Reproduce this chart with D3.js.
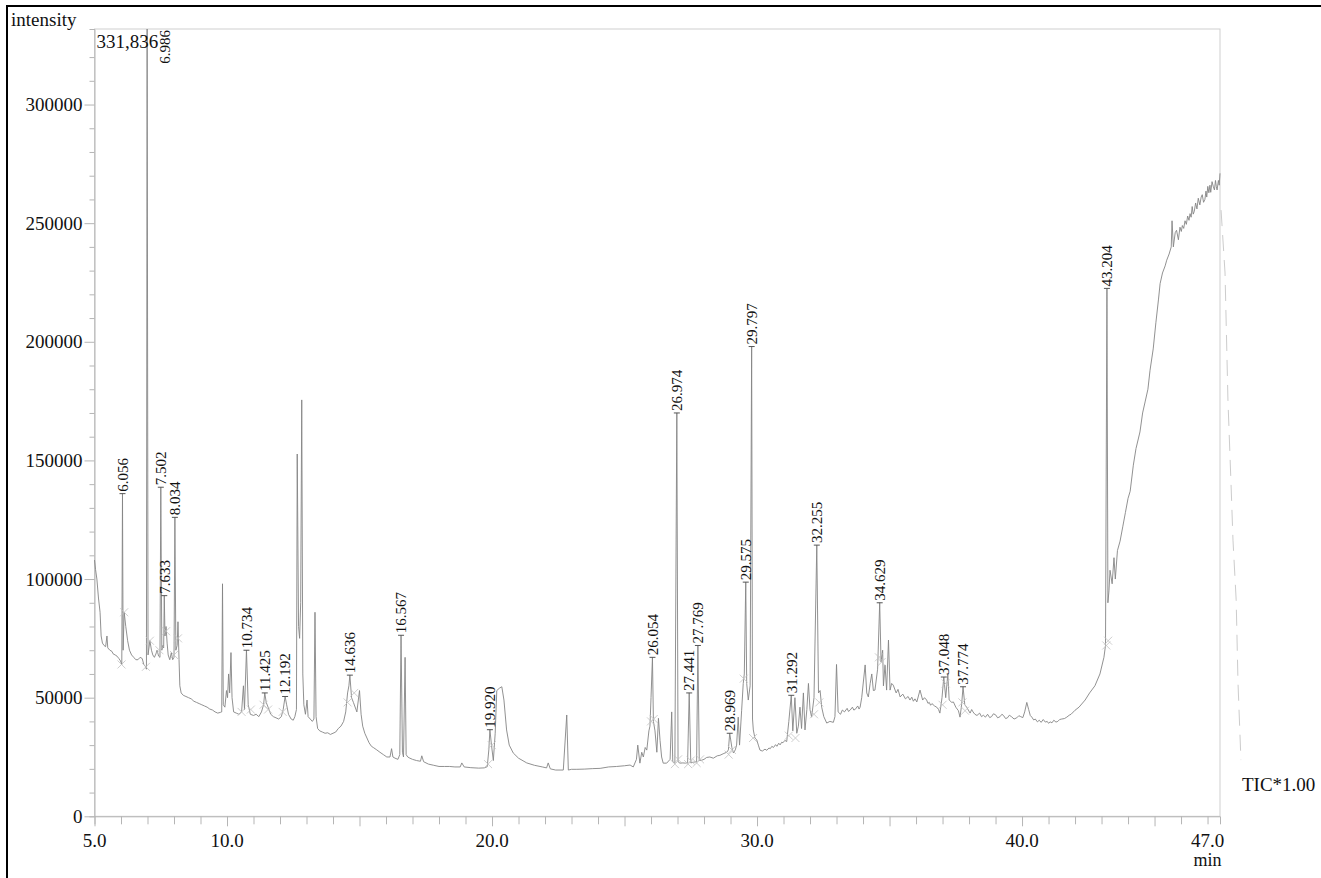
<!DOCTYPE html>
<html lang="en">
<head>
<meta charset="utf-8">
<title>TIC chromatogram</title>
<script src="https://d3js.org/d3.v7.min.js"></script>
<style>
  html, body { margin: 0; padding: 0; background: #fff; }
  svg { display: block; font-family: "Liberation Serif", "Times New Roman", serif; }
</style>
</head>
<body>
<div id="chart"></div>
<script>
// Trace: [time (min), intensity]
const traceEarly = [
  [5.00,108000],[5.04,104000],[5.09,100000],[5.15,92000],[5.21,86000],[5.25,76000],[5.30,73000],[5.36,72000],
  [5.42,71500],[5.47,76000],[5.50,71000],[5.58,70000],[5.66,69500],[5.70,68500],[5.78,68000],[5.85,67500],
  [5.92,66500],[5.98,65500],[6.03,64000],[6.08,70000],[6.12,86000],[6.18,80000],[6.25,74000],[6.32,70000],
  [6.40,68000],[6.48,67000],[6.56,66000],[6.64,66000],[6.72,67000],[6.80,66500],[6.86,64000],[6.93,63000],
  [6.96,62000],[7.02,68000],[7.09,74000],[7.15,70000],[7.20,68000],[7.26,67000],[7.32,68500],[7.36,70000],
  [7.42,67500],[7.47,67000],[7.54,70000],[7.58,72000],[7.61,71000],[7.66,76000],[7.70,80000],[7.74,73000],
  [7.78,68000],[7.84,66000],[7.90,69000],[7.95,66000],[8.00,67000],[8.07,70000],[8.12,72000],[8.15,82000],
  [8.19,66000],[8.22,55000],[8.27,52000],[8.35,51000],[8.45,50500],[8.55,50000],[8.65,49500],[8.75,48500],
  [8.85,48000],[8.95,47500],[9.05,47000],[9.15,46500],[9.25,46000],[9.35,45200],[9.45,44800],[9.55,44000],
  [9.65,43500],[9.75,43800],[9.80,44000],[9.83,98000],[9.86,47000],[9.92,46000],[9.98,53000],[10.02,50000],
  [10.06,60000],[10.10,52000],[10.15,69000],[10.19,50000],[10.25,44000],[10.35,43500],[10.45,43000],[10.55,44000],
  [10.62,55000],[10.66,45000],[10.80,47000],[10.88,43000],[11.00,42500],[11.10,43000],[11.20,42000],[11.30,44000],
  [11.38,47000],[11.48,48000],[11.55,46000],[11.65,43000],[11.75,42000],[11.85,41500],[11.95,41000],[12.05,42000],
  [12.12,45000],[12.25,47000],[12.32,43000],[12.42,41000],[12.50,40500],[12.56,42000],[12.62,45000],[12.65,152700],
  [12.70,80000],[12.74,75000],[12.78,90000],[12.82,175500],[12.86,60000],[12.90,47000],[12.96,43000],[13.02,49000],
  [13.06,42000],[13.14,41000],[13.22,40000],[13.28,41000],[13.32,86000],[13.36,42000],[13.42,37000]
];
const traceMid = [
  [13.50,36000],[13.60,35500],[13.70,35000],[13.80,35200],[13.90,34500],[14.00,35000],[14.10,35500],[14.20,37000],
  [14.30,38000],[14.40,40000],[14.48,44000],[14.55,52000],[14.60,55000],[14.70,50000],[14.77,48000],[14.90,44000],
  [15.00,53000],[15.06,43000],[15.12,38000],[15.20,35000],[15.28,33000],[15.36,31000],[15.45,29500],[15.52,29000],
  [15.65,28000],[15.77,27000],[15.90,26000],[16.03,25000],[16.15,25000],[16.21,28500],[16.26,25000],[16.34,24500],
  [16.45,24000],[16.52,26000],[16.62,27000],[16.66,25000],[16.72,67000],[16.76,26000],[16.82,25000],[16.90,24500],
  [17.00,24000],[17.15,23500],[17.30,23200],[17.35,25500],[17.42,23000],[17.60,22000],[17.80,21500],[18.00,21000],
  [18.20,21000],[18.40,21000],[18.60,20800],[18.80,20800],[18.86,22500],[18.95,20800],[19.20,20500],[19.50,20300],
  [19.70,20400],[19.82,20900],[19.88,28000],[19.98,30000],[20.05,23500],[20.12,35000],[20.18,53000],[20.28,54000],
  [20.37,54600],[20.45,49000],[20.55,36400],[20.65,30000],[20.80,26700],[21.00,24500],[21.31,22500],[21.60,21500],
  [21.90,20800],[22.06,20400],[22.12,22500],[22.20,20000],[22.40,19500],[22.69,19500],[22.82,42700],[22.88,19500],
  [23.00,19800],[23.20,19800],[23.50,19900],[23.80,20100],[24.08,20200],[24.40,20800],[24.70,21000],[25.00,21300],
  [25.21,21600],[25.33,20800],[25.45,24000],[25.50,30000],[25.58,22400],[25.65,27000],[25.71,25000],[25.78,29000],
  [25.84,27900],[25.92,36000],[25.96,38000],[26.00,50000]
];
const traceLate = [
  [26.09,40000],[26.15,36000],[26.22,27000],[26.28,41300],[26.34,32000],[26.40,25000],[26.46,22400],[26.59,22400],
  [26.72,24000],[26.78,44000],[26.82,23000],[26.90,22400],[27.02,23000],[27.09,22400],[27.20,22500],[27.30,22400],
  [27.38,22600],[27.50,22500],[27.60,22800],[27.72,23000],[27.82,23500],[27.90,23600],[28.00,24000],[28.10,24800],
  [28.22,25000],[28.35,24500],[28.50,25500],[28.60,25700],[28.75,26500],[28.86,27000],[28.92,28000],[29.05,29000],
  [29.11,26700],[29.18,28000],[29.23,30000],[29.29,41800],[29.34,30000],[29.42,44700],[29.48,56000],[29.52,60000],
  [29.61,56000],[29.67,49000],[29.74,55000],[29.83,41000],[29.86,36400],[29.92,33000],[29.99,32200],[30.05,30000],
  [30.11,27900],[30.20,27500],[30.30,28300],[30.37,27800],[30.45,28800],[30.50,28500],[30.56,29500],[30.62,29000],
  [30.70,30200],[30.75,29500],[30.82,30800],[30.87,30100],[30.93,31200],[30.98,31000],[31.05,32000],[31.12,31500],
  [31.20,40000],[31.35,36000],[31.43,50000],[31.50,35000],[31.56,38000],[31.62,46000],[31.68,37000],
  [31.75,52000],[31.81,36400],[31.88,45000],[31.94,56000],[32.00,45000],[32.06,41800],[32.15,50000],[32.32,52000],
  [32.38,53000],[32.44,46000],[32.52,42000],[32.63,39300],[32.75,40000],[32.88,39600],[32.94,42000],[33.00,64000],
  [33.06,44000],[33.15,43000],[33.22,44800],[33.30,44000],[33.40,45500],[33.45,44200],[33.51,44700],[33.60,46000],
  [33.65,44800],[33.70,45000],[33.80,46500],[33.85,45200],[33.89,46000],[33.95,50000],[34.08,63800],[34.14,52000],
  [34.20,50300],[34.27,56000],[34.33,60000],[34.39,53000],
  [34.45,53200],[34.55,62000],[34.68,65000],[34.74,70000],[34.77,55000],[34.83,63800],[34.89,53200],[34.96,74300],
  [35.02,53200],[35.08,56000],[35.14,55300],[35.25,52000],[35.32,53500],[35.40,50300],[35.50,51500],[35.60,49500],
  [35.70,50500],[35.77,49000],[35.84,50200],[35.90,48500],[35.96,49500],[36.03,48200],[36.15,53200],[36.25,49000],
  [36.32,50000],[36.40,49000],[36.45,47600],[36.50,48000],[36.55,46800],[36.60,47500],[36.70,46500],[36.78,46000],
  [36.85,45000],[36.90,43500],[36.98,50000],[37.12,50000],[37.20,60000],[37.25,49000],
  [37.35,48000],[37.41,48200],[37.50,46000],[37.60,44500],[37.66,41800],[37.72,47000],[37.84,47000],[37.91,46000],
  [38.04,43500],[38.10,45000],[38.15,44000],[38.22,43000],[38.30,42500],[38.40,43500],[38.47,42000],[38.54,42600],
  [38.62,41800],[38.70,43000],[38.78,41600],[38.85,42000],[38.92,43200],[39.00,42800],[39.08,41500],[39.17,42000],
  [39.24,43000],[39.30,42500],[39.38,41200],[39.45,41500],[39.52,42600],[39.60,42000],[39.70,41000],[39.80,41500],
  [39.88,42400],[39.95,42000],[40.03,41600],[40.10,44000],[40.18,48000],[40.25,45000],[40.31,42500],[40.37,41800],
  [40.44,40600],[40.50,41000],[40.58,39800],[40.65,40500],[40.72,39600],[40.80,40800],[40.88,39700],[40.95,40000],
  [41.00,39200],[41.06,39800],[41.13,39400],[41.20,40500],[41.28,39700],[41.35,40000],[41.42,40800],[41.50,41000],
  [41.60,41200],[41.69,41800],[41.78,42600],[41.85,43000],[42.00,44700],[42.15,46000],[42.38,49000],[42.55,52000],
  [42.75,55000],[42.94,60000],[43.09,67000],[43.15,72000],[43.24,90000],[43.28,95000],[43.32,103700],[43.40,98000],
  [43.47,109000],[43.52,100000],[43.60,112000],[43.70,116000],[43.80,122000],[43.90,128000],[44.00,134000],[44.08,137000],
  [44.20,148000],[44.30,155000],[44.45,162000],[44.55,170000],[44.65,175000],[44.75,180000],[44.83,188000],[44.95,197000],
  [45.05,208000],[45.15,218000],[45.21,224500],[45.30,229000],[45.40,232000],[45.46,234400],[45.55,237000],[45.63,240000],
  [45.66,251000],[45.71,240000],[45.78,246000],[45.83,247000],[45.90,243000],[45.96,248300],[46.01,246500],[46.05,249000],
  [46.10,247800],[46.15,251000],[46.20,249500],[46.25,253000],[46.30,251200],[46.34,254000],[46.38,252500],[46.42,257000],
  [46.46,253800],[46.50,255000],[46.55,258500],[46.60,256000],[46.65,260500],[46.71,257700],[46.76,261000],[46.80,262000],
  [46.85,258800],[46.90,260000],[46.94,263500],[46.97,261000],[47.01,265500],[47.05,262800],[47.09,266000],[47.12,263000],
  [47.17,267500],[47.22,265300],[47.26,264000],[47.30,268000],[47.33,265500],[47.36,264000],[47.41,268000],[47.44,266000],
  [47.47,271000]
];
// part of the trace past the end of the window (drawn dashed)
const tailTrace = [
  [47.51,255500],[47.66,229000],[47.77,175400],[47.89,138800],[47.96,116400],[48.08,91200],[48.15,56000],[48.26,23700]
];

// Labelled peaks
const peakLabels = ["6.056","6.986","7.502","7.633","8.034","10.734","11.425","12.192","14.636","16.567","19.920",
  "26.054","26.974","27.441","27.769","28.969","29.575","29.797","31.292","32.255","34.629","37.048","37.774","43.204"];
const peakHeights = [136000,331836,138700,93000,126000,70000,52000,50500,59500,76300,36500,
  67000,170000,52000,72000,35000,98700,198000,51000,114300,90000,58700,54600,222500];

// Integration marks (peak start / end)
const markTimes = [6.02,6.12,6.94,7.09,7.45,7.70,8.00,8.15,10.55,10.90,11.38,11.55,12.10,14.55,14.80,19.85,19.99,
  26.00,26.10,26.90,27.02,27.40,27.50,27.72,27.85,28.93,29.05,29.50,29.85,31.20,31.45,32.15,32.35,34.60,34.70,37.00,37.12,37.75,37.85,43.18,43.25];
const markValues = [64000,86000,63000,74000,70000,78000,68000,75000,44000,45000,47000,45000,44000,48000,52000,22000,30000,
  40000,41000,22000,24000,22000,23500,22500,24000,26000,28000,58000,33000,34000,33000,43000,48000,67000,65000,47000,56000,48000,44500,72000,74000];

const xTickLabels = [5.0, 10.0, 20.0, 30.0, 40.0, 47.0];
const yTickLabels = [0, 50000, 100000, 150000, 200000, 250000, 300000];
const xDomain = [5.0, 47.47];
const yDomain = [0, 331836];

// Dimensions
const width = 1321, height = 878;
const plot = { left: 94.5, right: 1220, top: 29, bottom: 816.3 };
const serif = '"Liberation Serif", "Times New Roman", serif';

const svg = d3.select("#chart").append("svg")
  .attr("width", width)
  .attr("height", height);

svg.append("rect").attr("width", width).attr("height", height).attr("fill", "#fff");

// outer black frame (top and left edges visible)
svg.append("line").attr("x1", 7).attr("x2", width).attr("y1", 6).attr("y2", 6)
  .attr("stroke", "#000").attr("stroke-width", 2);
svg.append("line").attr("x1", 7).attr("x2", 7).attr("y1", 5).attr("y2", height)
  .attr("stroke", "#000").attr("stroke-width", 2);

// Scales
const x = d3.scaleLinear().domain(xDomain).range([plot.left, plot.right]);
const y = d3.scaleLinear().domain(yDomain).range([plot.bottom, plot.top]);

// plot frame
svg.append("rect")
  .attr("x", plot.left).attr("y", plot.top)
  .attr("width", plot.right - plot.left).attr("height", plot.bottom - plot.top)
  .attr("fill", "none").attr("stroke", "#cfcfcf").attr("stroke-width", 1);

// Axes
const xAxis = d3.axisBottom(x)
  .tickValues(d3.range(5, 48, 1))
  .tickSize(8)
  .tickFormat("");
const gx = svg.append("g").attr("transform", `translate(0,${plot.bottom})`).call(xAxis)
  .attr("font-family", serif);
gx.selectAll("line").attr("stroke", "#b5b5b5").attr("y2", d => d % 5 === 0 ? 10 : 8);
gx.select(".domain").attr("stroke", "#b5b5b5");

gx.selectAll(".xlab").data(xTickLabels).join("text")
  .attr("class", "xlab")
  .attr("x", d => x(d)).attr("y", 31)
  .attr("text-anchor", "middle")
  .attr("font-size", 19)
  .attr("fill", "#111")
  .text(d => d.toFixed(1));

svg.append("text")
  .attr("x", x(47)).attr("y", 866)
  .attr("text-anchor", "middle")
  .attr("font-size", 18)
  .attr("fill", "#111")
  .text("min");

const yAxis = d3.axisLeft(y)
  .tickValues(d3.range(0, 330000, 10000))
  .tickSize(5)
  .tickFormat("");
const gy = svg.append("g").attr("transform", `translate(${plot.left},0)`).call(yAxis)
  .attr("font-family", serif);
gy.selectAll("line").attr("stroke", "#b5b5b5").attr("x2", d => d % 50000 === 0 ? -10 : -5);
gy.select(".domain").attr("stroke", "#b5b5b5");

gy.selectAll(".ylab").data(yTickLabels).join("text")
  .attr("class", "ylab")
  .attr("x", -12).attr("y", d => y(d))
  .attr("dy", "0.35em")
  .attr("text-anchor", "end")
  .attr("font-size", 19)
  .attr("fill", "#111")
  .text(d => d);

svg.append("text")
  .attr("x", 11).attr("y", 26)
  .attr("font-size", 19)
  .attr("fill", "#111")
  .text("intensity");

// Trace (labelled peak apexes merged in)
const peakTimes = peakLabels.map(Number);
const points = traceEarly.concat(traceMid, traceLate, peakTimes.map((t, i) => [t, peakHeights[i]]))
  .sort((a, b) => a[0] - b[0]);

const line = d3.line().x(d => x(d[0])).y(d => y(d[1]));

svg.append("path")
  .datum(points)
  .attr("d", line)
  .attr("fill", "none")
  .attr("stroke", "#858585")
  .attr("stroke-width", 0.9)
  .attr("stroke-linejoin", "round");

svg.append("path")
  .datum(tailTrace)
  .attr("d", line)
  .attr("fill", "none")
  .attr("stroke", "#cccccc")
  .attr("stroke-width", 1)
  .attr("stroke-dasharray", "16,9");

// integration marks
svg.append("g").selectAll("path")
  .data(markTimes.map((t, i) => [t, markValues[i]]))
  .join("path")
  .attr("d", d => {
    const cx = x(d[0]), cy = y(d[1]), s = 4;
    return `M${cx - s},${cy - s}L${cx + s},${cy + s}M${cx - s},${cy + s}L${cx + s},${cy - s}`;
  })
  .attr("stroke", "#c2c2c2")
  .attr("stroke-width", 0.8)
  .attr("fill", "none");

// Peak labels
const labels = svg.append("g");
peakTimes.forEach((t, i) => {
  const px = x(t), py = y(peakHeights[i]);
  if (py <= plot.top + 2) {
    labels.append("text")
      .attr("x", plot.left + 2).attr("y", plot.top + 19)
      .attr("font-size", 19)
      .attr("fill", "#111")
      .text(d3.format(",")(peakHeights[i]));
    labels.append("text")
      .attr("transform", `translate(${px + 18},${plot.top + 1}) rotate(-90)`)
      .attr("text-anchor", "end")
      .attr("dy", "0.35em")
      .attr("font-size", 15)
      .attr("fill", "#111")
      .text(peakLabels[i]);
  } else {
    labels.append("line")
      .attr("x1", px - 3).attr("x2", px + 3)
      .attr("y1", py).attr("y2", py)
      .attr("stroke", "#555").attr("stroke-width", 1);
    labels.append("text")
      .attr("transform", `translate(${px},${py - 2}) rotate(-90)`)
      .attr("dy", "0.35em")
      .attr("font-size", 15)
      .attr("fill", "#111")
      .text(peakLabels[i]);
  }
});

svg.append("text")
  .attr("x", 1242).attr("y", 791)
  .attr("font-size", 19)
  .attr("fill", "#111")
  .text("TIC*1.00");
</script>
</body>
</html>
